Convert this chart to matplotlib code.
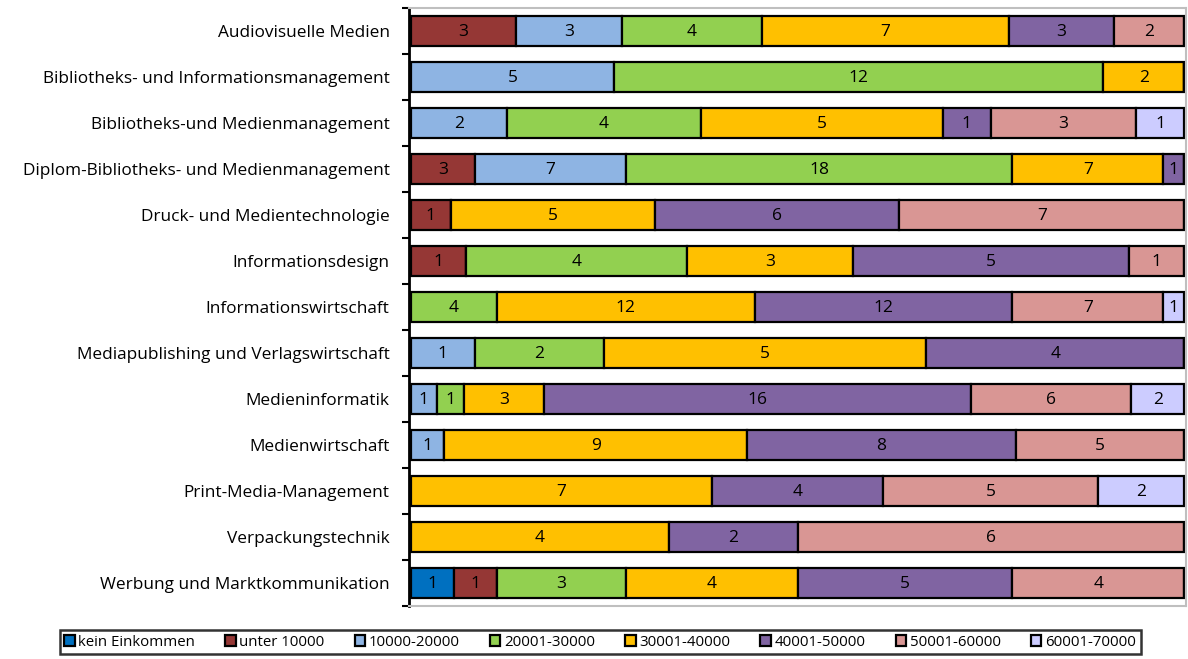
import matplotlib
matplotlib.use("Agg")
import matplotlib.pyplot as plt
import numpy as np
from matplotlib.patches import Patch

plt.rcParams['font.family'] = ['Open Sans', 'DejaVu Sans']

categories = [
    "Audiovisuelle Medien",
    "Bibliotheks- und Informationsmanagement",
    "Bibliotheks-und Medienmanagement",
    "Diplom-Bibliotheks- und Medienmanagement",
    "Druck- und Medientechnologie",
    "Informationsdesign",
    "Informationswirtschaft",
    "Mediapublishing und Verlagswirtschaft",
    "Medieninformatik",
    "Medienwirtschaft",
    "Print-Media-Management",
    "Verpackungstechnik",
    "Werbung und Marktkommunikation",
]

series_names = [
    "kein Einkommen", "unter 10000", "10000-20000", "20001-30000",
    "30001-40000", "40001-50000", "50001-60000", "60001-70000",
]

kein_einkommen = [0, 0, 0, 0, 0, 0, 0, 0, 0, 0, 0, 0, 1]
unter_10000    = [3, 0, 0, 3, 1, 1, 0, 0, 0, 0, 0, 0, 1]
e10000_20000   = [3, 5, 2, 7, 0, 0, 0, 1, 1, 1, 0, 0, 0]
e20001_30000   = [4, 12, 4, 18, 0, 4, 4, 2, 1, 0, 0, 0, 3]
e30001_40000   = [7, 2, 5, 7, 5, 3, 12, 5, 3, 9, 7, 4, 4]
e40001_50000   = [3, 0, 1, 1, 6, 5, 12, 4, 16, 8, 4, 2, 5]
e50001_60000   = [2, 0, 3, 0, 7, 1, 7, 0, 6, 5, 5, 6, 4]
e60001_70000   = [0, 0, 1, 0, 0, 0, 1, 0, 2, 0, 2, 0, 0]

series_values = [kein_einkommen, unter_10000, e10000_20000, e20001_30000,
                 e30001_40000, e40001_50000, e50001_60000, e60001_70000]

colors = ["#0070C0", "#953735", "#8EB4E3", "#92D050",
          "#FFC000", "#8064A2", "#D99694", "#CCCCFF"]

counts = np.array(series_values, dtype=float)
totals = counts.sum(axis=0)
shares = counts / totals

fig = plt.figure(figsize=(11.88, 6.59), dpi=100)
ax = fig.add_axes([409 / 1188, 1 - 606 / 659, (1186 - 409) / 1188, (606 - 8) / 659])

y = np.arange(len(categories))
left = np.zeros(len(categories))
for i, name in enumerate(series_names):
    w = shares[i]
    ax.barh(y, w, left=left, height=0.66, color=colors[i],
            edgecolor="black", linewidth=1.6, label=name, zorder=2)
    for j in range(len(categories)):
        if counts[i, j] > 0:
            ax.text(left[j] + w[j] / 2, y[j] + 0.03, f"{int(counts[i, j])}",
                    ha="center", va="center", fontsize=12.5, color="black", zorder=3)
    left = left + w

ax.set_xlim(-0.002, 1.002)
ax.set_ylim(len(categories) - 0.5, -0.5)
ax.set_yticks(y)
ax.set_yticklabels(categories, fontsize=12.4)
ax.set_yticks(np.arange(-0.5, len(categories), 1.0), minor=True)
ax.tick_params(axis="y", which="major", length=0, pad=14)
ax.tick_params(axis="y", which="minor", length=5, width=1.5, color="black", direction="out")
ax.set_xticks([])

for side in ("top", "right", "bottom"):
    ax.spines[side].set_color("#BFBFBF")
    ax.spines[side].set_linewidth(1.5)
ax.spines["left"].set_color("black")
ax.spines["left"].set_linewidth(2)

handles = [Patch(facecolor=c, edgecolor="black", linewidth=1.6) for c in colors]
leg = fig.legend(handles, series_names, loc="center",
                 bbox_to_anchor=(600 / 1188, 1 - 642 / 659), ncol=8,
                 fontsize=10.8, frameon=True, fancybox=False,
                 handlelength=0.7, handleheight=0.7, handletextpad=0.25,
                 columnspacing=2.0, borderpad=0.3, borderaxespad=0)
leg.get_frame().set_edgecolor("black")
leg.get_frame().set_linewidth(1.8)

fig.savefig("out.png", dpi=100)
